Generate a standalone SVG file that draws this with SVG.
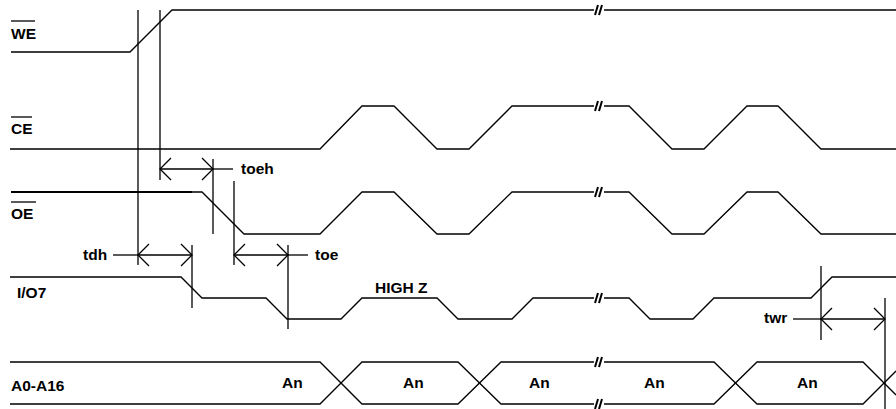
<svg xmlns="http://www.w3.org/2000/svg" width="896" height="409" viewBox="0 0 896 409">
<style>
.w{fill:none;stroke:#000;stroke-width:1.3;stroke-linejoin:miter}
.t{font-family:"Liberation Sans",Arial,sans-serif;font-weight:bold;font-size:15.5px;fill:#000}
.brk{stroke:#000;stroke-width:2;fill:none}
</style>
<defs>
<marker id="ah" markerUnits="userSpaceOnUse" markerWidth="24" markerHeight="24" viewBox="-12 -12 24 24" refX="0" refY="0" orient="auto-start-reverse" overflow="visible">
<path d="M-11,-11 L0,0 L-11,11" fill="none" stroke="#000" stroke-width="1.3"/>
</marker>
<g id="brkmark"><rect x="-6" y="-5" width="10" height="10" fill="#fff"/><path class="brk" d="M-5,5 L-2,-5 M-1,5 L2,-5"/></g>
</defs>
<rect width="896" height="409" fill="#fff"/>

<g id="sig-we">
<text class="t" x="11" y="39">WE</text>
<line class="w" x1="11" y1="21" x2="35" y2="21"/>
<polyline class="w" points="11,52 130,52 172,10 896,10"/>
<use href="#brkmark" x="600" y="10"/>
</g>

<g id="sig-ce">
<text class="t" x="11" y="134">CE</text>
<line class="w" x1="11" y1="117" x2="32" y2="117"/>
<polyline class="w" points="10,149 320,149 362,106 394,106 437,149 469,149 512,106 629,106 672,149 704,149 747,106 778,106 821,149 896,149"/>
<use href="#brkmark" x="600" y="106"/>
</g>

<g id="sig-oe">
<text class="t" x="11" y="219">OE</text>
<line class="w" x1="11" y1="202" x2="36" y2="202"/>
<line x1="11" y1="192" x2="192" y2="192" stroke="#000" stroke-width="2.2"/>
<polyline class="w" points="191,192 202,192 244,234 320,234 362,192 394,192 437,234 469,234 512,192 629,192 672,234 704,234 747,192 778,192 821,234 896,234"/>
<use href="#brkmark" x="600" y="192"/>
</g>

<g id="sig-io7">
<text class="t" x="17" y="298">I/O7</text>
<polyline class="w" points="10,277 181,277 202,298 266,298 287,319 341,319 362,298 437,298 458,319 512,319 533,298 629,298 650,319 693,319 714,298 811,298 832,277 896,277"/>
<use href="#brkmark" x="600" y="298"/>
<text class="t" x="375" y="293">HIGH Z</text>
</g>

<g id="sig-addr">
<text class="t" x="11" y="391">A0-A16</text>
<polyline class="w" points="10,362 320,362 362,404 458,404 501,362 714,362 757,404 863,404 896,371"/>
<polyline class="w" points="10,404 320,404 362,362 458,362 501,404 714,404 757,362 863,362 896,395"/>
<use href="#brkmark" x="600" y="362"/>
<use href="#brkmark" x="600" y="404"/>
<text class="t" x="282" y="388">An</text>
<text class="t" x="403" y="388">An</text>
<text class="t" x="529" y="388">An</text>
<text class="t" x="644" y="388">An</text>
<text class="t" x="797" y="388">An</text>
</g>

<g id="connectors">
<line class="w" x1="138" y1="10" x2="138" y2="265"/>
<line class="w" x1="160" y1="10" x2="160" y2="180"/>
<line class="w" x1="213" y1="159" x2="213" y2="234"/>
<line class="w" x1="234" y1="181" x2="234" y2="265"/>
<line class="w" x1="192" y1="245" x2="192" y2="308"/>
<line class="w" x1="288" y1="245" x2="288" y2="329"/>
<line class="w" x1="821" y1="266" x2="821" y2="340"/>
<line class="w" x1="885" y1="298" x2="885" y2="409"/>

<line class="w" x1="160" y1="169" x2="213" y2="169" marker-start="url(#ah)" marker-end="url(#ah)"/>
<line class="w" x1="213" y1="169" x2="233" y2="169"/>
<text class="t" x="241" y="174">toeh</text>

<line class="w" x1="113" y1="255" x2="138" y2="255"/>
<line class="w" x1="138" y1="255" x2="192" y2="255" marker-start="url(#ah)" marker-end="url(#ah)"/>
<text class="t" x="83" y="260">tdh</text>

<line class="w" x1="234" y1="255" x2="288" y2="255" marker-start="url(#ah)" marker-end="url(#ah)"/>
<line class="w" x1="288" y1="255" x2="308" y2="255"/>
<text class="t" x="315" y="260">toe</text>

<line class="w" x1="793" y1="319" x2="821" y2="319"/>
<line class="w" x1="821" y1="319" x2="885" y2="319" marker-start="url(#ah)" marker-end="url(#ah)"/>
<text class="t" x="764" y="323">twr</text>
</g>
</svg>
